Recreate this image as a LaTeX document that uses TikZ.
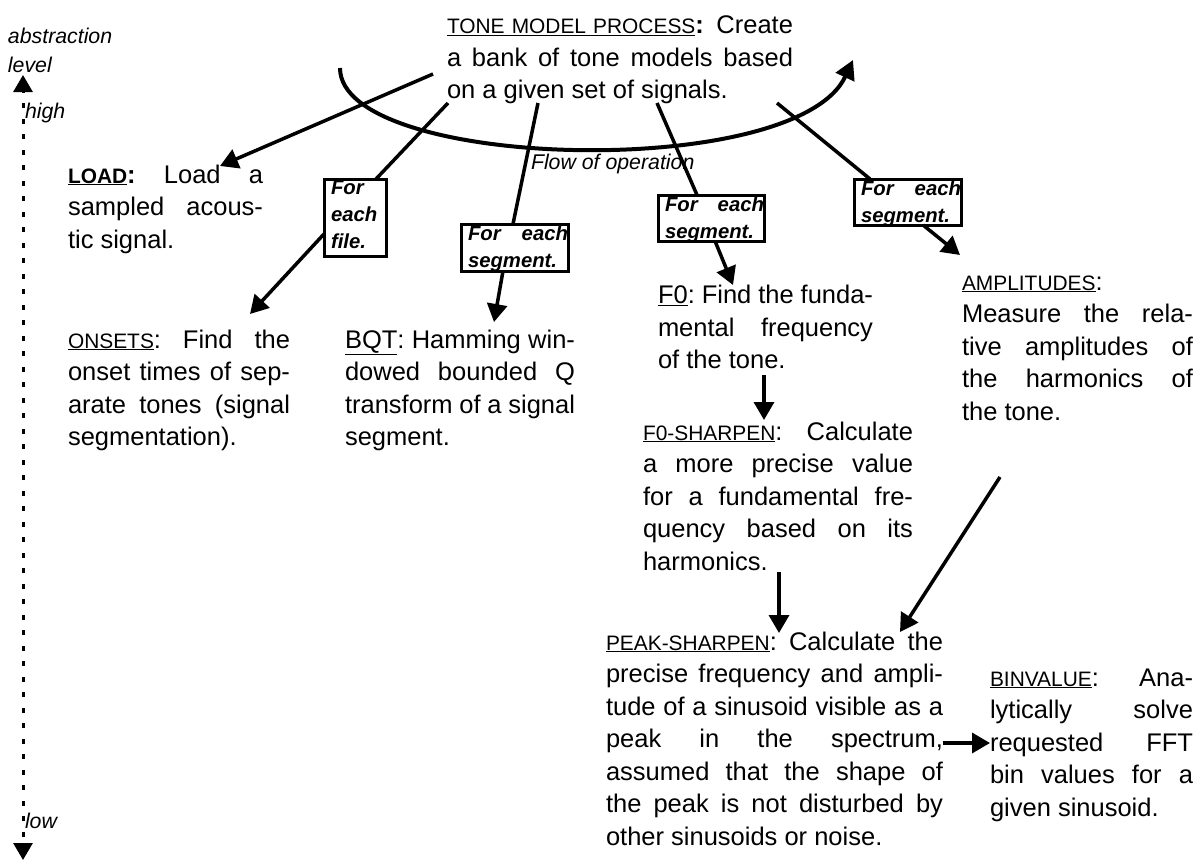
\documentclass[tikz,border=0pt]{standalone}
\usepackage{fontspec}
\setmainfont{Liberation Sans}
\usetikzlibrary{arrows.meta}

% type sizes
\newcommand\bodysize{\fontsize{25.5}{32.5}\selectfont}
\newcommand\tagsize{\fontsize{20.9}{32.5}\selectfont}
\newcommand\notesize{\fontsize{21.3}{29}\selectfont}
\newcommand\boxsize{\fontsize{20.3}{27}\selectfont\bfseries\itshape}

% one justified line, one ragged line, a column of lines
\newcommand\jline[1]{\hbox to\hsize{\frenchspacing\spaceskip=.278em plus 1fil minus .08em\relax #1}}
\newcommand\rline[1]{\hbox to\hsize{#1\hfil}}
\newcommand\textcol[2]{\vtop{\hsize=#1pt\relax #2}}
\newcommand\procname[1]{\underline{\tagsize #1}}

\tikzset{
  body/.style={inner sep=0pt, outer sep=0pt, anchor=base west, font=\bodysize},
  note/.style={inner sep=0pt, outer sep=0pt, anchor=base west, font=\notesize\itshape},
  forbox/.style={draw, line width=3pt, inner xsep=0pt, inner ysep=1.5pt, outer sep=0pt,
                 anchor=north west, font=\boxsize},
  link/.style={line width=3.5pt},
  arrowlink/.style={link, -{Triangle[length=18pt,width=20pt]}},
  flow/.style={line width=4pt, -{Triangle[length=19pt,width=20pt]}},
  levelaxis/.style={line width=3pt, dash pattern=on 5pt off 10.5pt, dash phase=-12pt,
                    {Triangle[length=17pt,width=19pt]}-{Triangle[length=17pt,width=19pt]}},
}

\begin{document}
\begin{tikzpicture}[x=1pt,y=-1pt]
\useasboundingbox[fill=white] (0,0) rectangle (1202,862);

% abstraction level axis
\coordinate (axTop) at (23,75);
\coordinate (axBot) at (23,860);
\draw[levelaxis] (axTop) -- (axBot);
\node[note] (abslbl) at (8,43) {\textcol{120}{\rline{abstraction}\rline{level}}};
\node[note] (high) at (25,118) {high};
\node[note] (low) at (25,828) {low};

% process descriptions
\node[body] (tone) at (447,33.5) {\textcol{346}{%
  \jline{\procname{TONE MODEL PROCESS}\textbf{:} Create}
  \jline{a bank of tone models based}
  \rline{on a given set of signals.}}};

\node[body] (load) at (68,183) {\textcol{195}{%
  \jline{\textbf{\underline{\tagsize LOAD}:} Load a}
  \jline{sampled acous-}
  \rline{tic signal.}}};

\node[body] (onsets) at (68,348) {\textcol{222}{%
  \jline{\procname{ONSETS}: Find the}
  \jline{onset times of sep-}
  \jline{arate tones (signal}
  \rline{segmentation).}}};

\node[body] (bqt) at (345,348) {\textcol{230}{%
  \jline{\underline{BQT}: Hamming win-}
  \jline{dowed bounded Q}
  \jline{transform of a signal}
  \rline{segment.}}};

\node[body] (f0) at (658,303.5) {\textcol{215}{%
  \jline{\underline{F0}: Find the funda-}
  \jline{mental frequency}
  \rline{of the tone.}}};

\node[body] (f0sharpen) at (643,440) {\textcol{270}{%
  \jline{\procname{F0-SHARPEN}: Calculate}
  \jline{a more precise value}
  \jline{for a fundamental fre-}
  \jline{quency based on its}
  \rline{harmonics.}}};

\node[body] (amplitudes) at (962,290) {\textcol{231}{%
  \rline{\procname{AMPLITUDES}:}
  \jline{Measure the rela-}
  \jline{tive amplitudes of}
  \jline{the harmonics of}
  \rline{the tone.}}};

\node[body] (peaksharpen) at (606,650) {\textcol{337}{%
  \jline{\procname{PEAK-SHARPEN}: Calculate the}
  \jline{precise frequency and ampli-}
  \jline{tude of a sinusoid visible as a}
  \jline{peak in the spectrum,}
  \jline{assumed that the shape of}
  \jline{the peak is not disturbed by}
  \rline{other sinusoids or noise.}}};

\node[body] (binvalue) at (990,686) {\textcol{203}{%
  \jline{\procname{BINVALUE}: Ana-}
  \jline{lytically solve}
  \jline{requested FFT}
  \jline{bin values for a}
  \rline{given sinusoid.}}};

% iteration boxes
\node[forbox] (b1) at (324,179) {\kern7pt\vtop to 74pt{\hsize=55pt \rline{For}\rline{each}\rline{file.}\vss}};
\node[forbox] (b2) at (461,224) {\kern7pt\vtop to 44pt{\hsize=100pt \jline{For each}\rline{segment.}\vss}};
\node[forbox] (b3) at (658,195) {\kern7pt\vtop to 43pt{\hsize=99pt \jline{For each}\rline{segment.}\vss}};
\node[forbox] (b4) at (854,179) {\kern7pt\vtop to 43pt{\hsize=100pt \jline{For each}\rline{segment.}\vss}};

% flow of operation
\coordinate (arcL) at (340,68);
\coordinate (arcR) at (853,60);
\draw[flow] (arcL) .. controls (340,170) and (796,182) .. (arcR);
\node[note] (flowlbl) at (531,169) {Flow of operation};

% connector end points
\coordinate (toneA) at (433,74);
\coordinate (toneB) at (448,103);
\coordinate (toneC) at (538,103);
\coordinate (toneD) at (657,103);
\coordinate (toneE) at (777,103);
\coordinate (loadIn) at (220,166);
\coordinate (onsetsIn) at (250,314);
\coordinate (bqtIn) at (494,322);
\coordinate (f0In) at (733,285);
\coordinate (ampIn) at (960,255);
\coordinate (f0Out) at (764,375);
\coordinate (fsIn) at (764,420);
\coordinate (fsOut) at (779,572);
\coordinate (peakInA) at (779,633);
\coordinate (ampOut) at (1000,477);
\coordinate (peakInB) at (900,632);
\coordinate (peakOut) at (943,743);
\coordinate (binIn) at (990,743);

% connectors
\draw[arrowlink] (toneA) -- (loadIn);
\draw[link] (toneB) -- ([xshift=52pt]b1.north west);
\draw[arrowlink] ([yshift=-55pt]b1.north west) -- (onsetsIn);
\draw[link] (toneC) -- ([xshift=52pt]b2.north west);
\draw[arrowlink] ([xshift=42pt]b2.south west) -- (bqtIn);
\draw[link] (toneD) -- ([xshift=39pt]b3.north west);
\draw[arrowlink] ([xshift=57pt]b3.south west) -- (f0In);
\draw[link] (toneE) -- ([xshift=16pt]b4.north west);
\draw[arrowlink] ([xshift=69pt]b4.south west) -- (ampIn);
\draw[arrowlink] (f0Out) -- (fsIn);
\draw[arrowlink] (fsOut) -- (peakInA);
\draw[arrowlink] (ampOut) -- (peakInB);
\draw[arrowlink] (peakOut) -- (binIn);
\end{tikzpicture}
\end{document}
